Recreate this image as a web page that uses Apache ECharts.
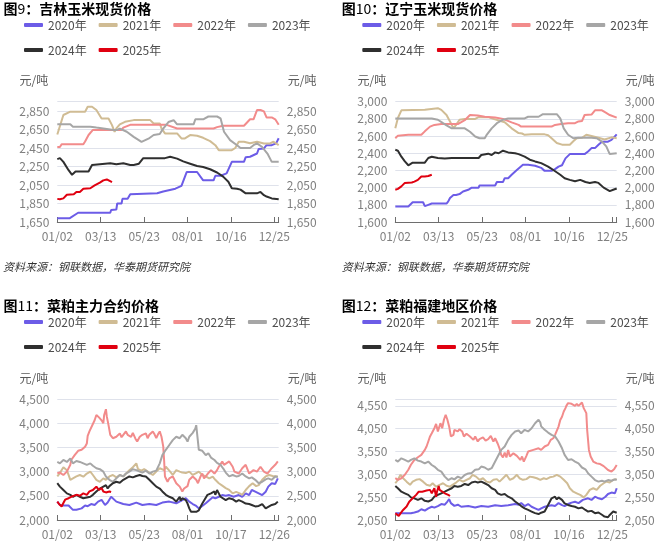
<!DOCTYPE html>
<html><head><meta charset="utf-8">
<script src="https://cdn.jsdelivr.net/npm/echarts@6/dist/echarts.min.js"></script>
<style>html,body{margin:0;padding:0;background:#fff}#c{width:662px;height:546px}</style>
</head><body><div id="c"></div>
<script>
// ---------- data ----------
const N = 256;
const xLabelsA = ['01/02','03/13','05/23','08/01','10/16','12/25'];
const xLabelsC = ['01/02','03/13','05/23','08/01','10/17','12/26'];
const years = ['2020年','2021年','2022年','2023年','2024年','2025年'];

const jilinTicks = [1650,1850,2050,2250,2450,2650,2850];
const liaoningTicks = [1600,1800,2000,2200,2400,2600,2800,3000];
const caipoTicks = [2000,2500,3000,3500,4000,4500];
const fujianTicks = [2050,2550,3050,3550,4050,4550];

const jilin2020 = [[0,1690],[14,1690],[24,1750],[61,1750],[62,1780],[68,1785],[69,1850],[74,1850],[75,1900],[81,1900],[84,1950],[115,1960],[117,1980],[122,1980],[124,2000],[136,2010],[138,2030],[143,2040],[149,2190],[161,2190],[163,2170],[168,2100],[180,2100],[182,2150],[188,2150],[190,2170],[195,2175],[201,2300],[215,2300],[217,2350],[222,2355],[230,2390],[232,2440],[238,2445],[241,2480],[247,2480],[252,2500],[255,2555]];
const jilin2021 = [[0,2596],[7,2806],[15,2842],[32,2842],[35,2896],[40,2896],[42,2878],[45,2860],[51,2769],[59,2769],[63,2697],[66,2625],[68,2661],[72,2704],[78,2733],[88,2751],[107,2751],[111,2715],[118,2715],[120,2661],[124,2607],[138,2607],[143,2553],[147,2553],[153,2589],[161,2582],[168,2560],[176,2524],[182,2480],[186,2426],[201,2426],[205,2450],[209,2517],[215,2517],[222,2500],[230,2517],[238,2499],[245,2499],[249,2517],[255,2480]];
const jilin2022 = [[0,2460],[3,2460],[5,2490],[30,2490],[32,2520],[36,2590],[41,2645],[74,2645],[76,2670],[84,2700],[126,2700],[138,2660],[180,2660],[184,2675],[191,2690],[215,2690],[218,2720],[222,2760],[226,2760],[230,2860],[234,2860],[238,2845],[241,2780],[247,2780],[251,2760],[255,2700]];
const jilin2023 = [[0,2705],[15,2705],[18,2680],[30,2680],[32,2660],[38,2680],[45,2670],[53,2660],[65,2645],[69,2645],[72,2660],[80,2625],[88,2570],[97,2515],[105,2550],[111,2590],[118,2600],[122,2660],[128,2730],[134,2750],[138,2705],[157,2705],[159,2760],[168,2760],[174,2790],[184,2790],[188,2770],[192,2625],[199,2535],[207,2480],[211,2450],[222,2450],[226,2480],[230,2500],[236,2460],[242,2390],[247,2300],[255,2300]];
const jilin2024 = [[0,2330],[1,2350],[3,2340],[7,2300],[13,2210],[17,2160],[19,2160],[21,2195],[36,2195],[40,2265],[42,2285],[61,2285],[68,2275],[76,2285],[84,2265],[88,2265],[94,2280],[99,2340],[124,2340],[130,2355],[138,2335],[145,2305],[153,2280],[161,2255],[168,2245],[176,2220],[184,2185],[191,2140],[197,2085],[201,2015],[207,2010],[211,2000],[217,1960],[230,1960],[234,1975],[238,1940],[241,1925],[247,1905],[255,1895]];
const jilin2025 = [[0,1900],[3,1895],[7,1905],[11,1945],[19,1950],[22,1975],[26,1975],[30,2010],[38,2015],[43,2045],[49,2075],[53,2100],[57,2110],[59,2100],[63,2080]];

const liaoning2020 = [[0,1780],[15,1780],[17,1800],[20,1830],[32,1830],[34,1785],[36,1785],[38,1800],[42,1815],[59,1815],[61,1840],[63,1880],[67,1915],[70,1915],[74,1925],[78,1955],[84,1975],[88,2000],[96,2000],[97,2025],[115,2025],[117,2065],[124,2065],[126,2110],[130,2110],[134,2150],[140,2205],[147,2265],[153,2265],[161,2255],[168,2230],[172,2195],[180,2195],[184,2215],[188,2245],[192,2260],[196,2340],[201,2390],[218,2390],[222,2420],[226,2460],[230,2460],[234,2500],[238,2535],[245,2535],[249,2555],[255,2620]];
const liaoning2021 = [[0,2690],[3,2810],[7,2900],[34,2905],[36,2925],[49,2925],[53,2905],[59,2845],[63,2770],[67,2690],[70,2730],[74,2790],[80,2800],[92,2800],[96,2820],[107,2820],[113,2800],[126,2760],[134,2690],[142,2635],[146,2630],[149,2615],[157,2620],[172,2620],[176,2610],[180,2575],[186,2520],[192,2500],[201,2500],[205,2540],[209,2575],[215,2580],[220,2615],[226,2600],[234,2580],[241,2560],[249,2585],[255,2575]];
const liaoning2022 = [[0,2575],[3,2605],[15,2615],[30,2615],[34,2655],[40,2710],[45,2730],[53,2740],[72,2740],[80,2785],[86,2845],[95,2840],[103,2825],[115,2815],[124,2800],[134,2760],[142,2730],[145,2710],[180,2710],[184,2730],[191,2740],[199,2750],[207,2750],[211,2770],[215,2775],[218,2845],[226,2850],[230,2900],[238,2900],[242,2875],[247,2845],[255,2815]];
const liaoning2023 = [[0,2805],[34,2805],[36,2800],[42,2805],[49,2790],[55,2750],[59,2725],[65,2690],[80,2690],[86,2650],[92,2595],[97,2575],[103,2575],[105,2610],[111,2690],[117,2750],[124,2790],[130,2805],[149,2805],[153,2825],[165,2825],[170,2855],[186,2855],[190,2805],[194,2690],[199,2615],[205,2575],[211,2580],[226,2580],[232,2575],[238,2535],[243,2480],[247,2390],[255,2400]];
const liaoning2024 = [[0,2440],[3,2430],[7,2360],[11,2305],[15,2260],[17,2275],[20,2290],[34,2290],[38,2345],[42,2360],[49,2345],[57,2340],[65,2345],[96,2345],[99,2380],[107,2395],[111,2380],[115,2410],[119,2400],[124,2430],[130,2410],[138,2400],[142,2390],[149,2360],[155,2325],[161,2305],[168,2285],[176,2245],[182,2205],[190,2150],[195,2110],[201,2090],[207,2075],[213,2090],[219,2065],[224,2055],[230,2065],[234,2055],[240,2000],[247,1960],[251,1975],[255,1990]];
const liaoning2025 = [[0,1975],[3,1985],[7,2015],[11,2055],[19,2060],[22,2070],[26,2090],[30,2130],[34,2130],[38,2135],[42,2150]];

const caipo2020 = [[0,2380],[3,2310],[7,2300],[13,2300],[18,2210],[22,2210],[24,2170],[28,2240],[32,2300],[35,2285],[39,2330],[43,2310],[47,2380],[51,2415],[55,2310],[58,2360],[62,2480],[64,2515],[68,2380],[76,2330],[83,2310],[91,2360],[98,2310],[106,2330],[114,2310],[121,2360],[129,2380],[137,2345],[144,2410],[148,2450],[152,2380],[156,2330],[160,2290],[163,2240],[167,2290],[171,2345],[175,2410],[179,2470],[182,2445],[186,2480],[190,2515],[194,2500],[198,2515],[203,2480],[209,2515],[213,2480],[217,2550],[221,2515],[224,2620],[228,2585],[232,2550],[236,2515],[240,2585],[243,2690],[247,2760],[251,2745],[254,2860]];
const caipo2021 = [[0,2900],[3,2970],[7,3090],[11,3030],[15,2830],[18,2860],[22,2900],[26,2930],[30,2895],[34,2960],[38,3000],[41,2930],[45,2830],[49,2790],[53,2860],[56,2830],[60,2900],[64,2930],[68,2880],[72,2930],[76,2900],[83,3030],[87,3090],[91,3170],[93,3050],[97,3020],[100,3050],[106,2980],[110,2930],[114,3000],[118,3070],[123,3030],[125,3100],[129,3020],[133,2930],[137,3030],[141,3000],[144,2980],[148,2970],[152,3000],[156,2930],[160,2970],[163,3000],[167,2930],[171,2900],[175,2860],[179,2895],[182,2830],[186,2760],[190,2710],[194,2660],[198,2620],[202,2550],[206,2580],[210,2550],[213,2520],[217,2620],[221,2700],[225,2760],[229,2700],[232,2720],[236,2830],[240,2900],[244,2930],[248,2910],[254,2900]];
const caipo2022 = [[0,2965],[3,2980],[7,2930],[11,3000],[13,3030],[15,3140],[16,3240],[20,3340],[24,3430],[28,3450],[30,3480],[32,3515],[34,3580],[35,3740],[37,3830],[39,3860],[43,4060],[45,4170],[48,4120],[51,4060],[53,4000],[54,4170],[56,4290],[57,4140],[59,3960],[60,3930],[61,3760],[64,3690],[66,3650],[68,3720],[72,3790],[74,3710],[76,3760],[79,3830],[81,3760],[83,3790],[85,3720],[87,3800],[90,3680],[92,3620],[95,3720],[98,3760],[100,3720],[102,3790],[104,3690],[106,3760],[110,3830],[112,3770],[114,3690],[116,3770],[118,3830],[120,3720],[122,3520],[123,3240],[124,2900],[127,2790],[129,2860],[131,2830],[133,2900],[137,2760],[141,2690],[144,2590],[146,2650],[148,2690],[150,2700],[152,2830],[156,2900],[160,2830],[162,2760],[165,2900],[167,2960],[169,2860],[173,2950],[177,3030],[179,3050],[181,2960],[184,3030],[186,3100],[190,3210],[192,3140],[194,3100],[198,3210],[200,3170],[202,3100],[204,3000],[206,3030],[209,2960],[211,2930],[213,3070],[217,3140],[219,3170],[221,2960],[223,3000],[226,3030],[230,3000],[234,3100],[238,3000],[242,2960],[244,3000],[247,3070],[251,3140],[254,3210]];
const caipo2023 = [[0,3200],[3,3170],[7,3240],[11,3200],[15,3270],[16,3240],[18,3170],[22,3220],[26,3200],[30,3170],[34,3140],[38,3170],[41,3120],[45,3070],[49,3050],[53,3000],[56,2900],[60,2830],[64,2790],[68,2860],[72,2930],[76,2900],[79,2960],[83,3000],[87,3050],[91,3030],[95,3000],[98,2980],[102,3020],[106,2960],[110,3000],[114,3020],[118,3170],[121,3340],[125,3450],[129,3550],[133,3650],[137,3720],[141,3690],[144,3760],[148,3690],[150,3620],[152,3720],[156,3800],[159,3890],[160,3960],[161,3790],[163,3450],[165,3410],[167,3430],[171,3340],[174,3380],[177,3290],[181,3240],[184,3180],[188,3140],[190,3090],[192,3040],[194,2980],[198,2900],[202,2930],[206,2900],[209,2910],[213,2960],[217,2900],[221,2860],[224,2880],[228,2830],[232,2760],[236,2790],[240,2840],[243,2860],[247,2830],[251,2900],[254,2890]];
const caipo2024 = [[0,2760],[3,2690],[7,2620],[11,2550],[15,2520],[18,2480],[22,2520],[26,2480],[30,2450],[34,2465],[38,2480],[41,2520],[45,2590],[49,2650],[53,2690],[56,2720],[58,2650],[60,2700],[64,2760],[68,2790],[72,2770],[76,2830],[79,2860],[83,2900],[87,2880],[91,2910],[95,2930],[98,2910],[102,2900],[106,2830],[110,2760],[114,2690],[118,2650],[121,2590],[125,2520],[127,2550],[129,2480],[133,2450],[137,2380],[139,2410],[141,2480],[142,2400],[144,2450],[148,2410],[150,2340],[152,2240],[154,2170],[156,2150],[160,2170],[163,2200],[165,2240],[167,2340],[169,2380],[173,2520],[175,2480],[177,2550],[181,2590],[182,2520],[184,2620],[186,2550],[188,2480],[190,2520],[194,2410],[198,2450],[202,2430],[206,2380],[209,2410],[213,2380],[217,2340],[221,2330],[224,2310],[228,2280],[232,2290],[236,2330],[240,2240],[243,2270],[247,2310],[251,2330],[254,2380]];
const caipo2025 = [[0,2380],[2,2330],[5,2280],[7,2350],[9,2420],[13,2450],[16,2480],[22,2520],[26,2500],[30,2550],[34,2520],[37,2590],[41,2620],[45,2690],[47,2700],[48,2620],[51,2660],[53,2590],[56,2570],[60,2590],[62,2580]];

const fujian2020 = [[0,2200],[18,2200],[22,2215],[26,2235],[30,2285],[34,2255],[38,2305],[42,2340],[45,2320],[49,2355],[53,2400],[57,2385],[60,2455],[62,2505],[64,2420],[68,2360],[72,2385],[76,2340],[84,2355],[92,2325],[99,2355],[107,2340],[115,2375],[122,2355],[130,2375],[138,2400],[142,2385],[145,2420],[149,2355],[153,2400],[157,2340],[161,2305],[165,2270],[168,2305],[172,2340],[176,2355],[180,2375],[184,2355],[188,2420],[192,2375],[195,2355],[199,2400],[203,2430],[207,2450],[211,2420],[216,2490],[222,2525],[226,2490],[230,2560],[234,2525],[238,2505],[242,2560],[245,2620],[249,2650],[253,2635],[255,2745]];
const fujian2021 = [[0,2855],[3,2930],[6,3040],[9,2965],[13,2890],[17,2820],[20,2890],[24,2930],[28,2945],[32,2890],[36,2820],[40,2800],[43,2855],[47,2780],[51,2820],[55,2855],[59,2800],[63,2780],[66,2820],[70,2870],[74,2930],[78,2890],[82,2930],[86,2965],[89,3040],[93,3000],[97,2930],[101,2965],[105,2890],[109,2870],[113,2930],[117,2945],[120,2890],[124,2965],[128,3040],[132,2930],[136,2965],[140,3040],[143,2965],[147,2930],[151,2945],[155,3000],[159,2985],[163,2965],[167,2930],[171,2965],[174,2945],[178,2985],[182,3000],[186,3040],[190,3000],[194,2930],[198,2855],[201,2745],[205,2670],[209,2635],[213,2600],[217,2545],[220,2600],[224,2710],[228,2745],[232,2710],[236,2800],[240,2855],[243,2890],[247,2870],[251,2930],[255,2945]];
const fujian2022 = [[0,2965],[3,2930],[7,2965],[11,3040],[15,3150],[18,3260],[22,3365],[26,3425],[30,3475],[32,3455],[34,3585],[36,3660],[38,3770],[40,3880],[42,3950],[45,4060],[47,4155],[49,3990],[52,4170],[54,4060],[56,4245],[58,4355],[60,4245],[62,4100],[64,3880],[67,3915],[68,4025],[72,3990],[74,4040],[77,3990],[79,3880],[82,3940],[84,3970],[86,3880],[90,3805],[92,3880],[95,3770],[97,3820],[101,3860],[104,3790],[107,3820],[110,3890],[113,3770],[115,3840],[118,3720],[120,3620],[122,3475],[124,3420],[126,3525],[128,3420],[130,3585],[132,3440],[136,3510],[140,3455],[144,3365],[146,3440],[148,3330],[151,3455],[153,3550],[155,3530],[159,3585],[161,3550],[165,3620],[168,3585],[172,3660],[176,3695],[179,3805],[182,3840],[184,3915],[186,3950],[188,4095],[190,4240],[192,4310],[194,4425],[196,4500],[197,4550],[199,4610],[203,4595],[207,4550],[209,4595],[211,4550],[213,4535],[215,4625],[217,4500],[219,4535],[220,4390],[221,4020],[223,3585],[225,3440],[228,3330],[232,3290],[236,3275],[238,3290],[240,3230],[242,3200],[245,3145],[247,3130],[249,3110],[252,3160],[255,3255]];
const fujian2023 = [[0,3365],[3,3330],[7,3400],[11,3365],[15,3330],[18,3365],[22,3400],[24,3365],[26,3350],[30,3330],[34,3290],[38,3330],[42,3255],[45,3220],[49,3150],[53,3110],[57,3000],[61,2925],[63,2890],[65,2965],[68,2940],[72,3000],[76,2965],[80,3035],[84,3070],[88,3080],[92,3150],[96,3160],[99,3220],[103,3200],[107,3150],[111,3185],[115,3330],[118,3440],[122,3585],[126,3660],[130,3805],[134,3915],[138,3990],[142,4010],[145,3950],[149,4025],[153,3990],[157,4060],[161,4170],[165,4245],[167,4185],[168,4100],[170,4135],[172,4025],[176,3965],[180,3915],[184,3880],[188,3770],[192,3620],[195,3475],[199,3365],[203,3380],[207,3330],[211,3290],[215,3200],[219,3160],[222,3075],[226,3000],[228,2965],[230,2925],[234,2890],[238,2910],[241,2890],[245,2925],[249,2910],[253,2940],[255,2925]];
const fujian2024 = [[0,2795],[3,2745],[7,2670],[11,2635],[15,2600],[18,2545],[22,2525],[26,2490],[30,2525],[34,2470],[38,2455],[42,2490],[45,2560],[49,2600],[53,2635],[57,2670],[61,2710],[65,2745],[68,2795],[72,2780],[76,2795],[80,2840],[84,2815],[88,2870],[92,2890],[95,2870],[99,2890],[103,2855],[107,2815],[111,2745],[115,2710],[118,2635],[122,2600],[126,2620],[130,2560],[134,2525],[138,2455],[142,2400],[145,2355],[149,2305],[153,2270],[157,2235],[161,2200],[165,2180],[168,2210],[172,2235],[176,2380],[180,2525],[184,2560],[186,2500],[188,2545],[192,2490],[195,2415],[199,2380],[203,2355],[207,2340],[211,2305],[215,2325],[219,2270],[222,2235],[226,2250],[230,2200],[234,2215],[238,2165],[241,2125],[245,2110],[247,2160],[249,2180],[251,2235],[255,2210]];
const fujian2025 = [[0,2195],[2,2160],[4,2140],[6,2195],[9,2270],[13,2345],[16,2450],[20,2525],[24,2600],[27,2670],[29,2710],[31,2670],[33,2710],[36,2695],[38,2670],[40,2710],[42,2635],[45,2745],[46,2710],[47,2560],[48,2670],[50,2795],[51,2710],[53,2670],[57,2635],[61,2600],[63,2575]];

// ---------- layout / style ----------
const colors = ['#6c5ce7','#d0bc94','#f28b8b','#a6a6a6','#2f2f2f','#e00010'];
const FONT = '"Noto Sans CJK SC","Noto Sans",sans-serif';
const cats = Array.from({length: N}, (_, i) => String(i));

const panels = [
  {num:'9',  name:'：吉林玉米现货价格', series:[jilin2020,jilin2021,jilin2022,jilin2023,jilin2024,jilin2025], ticks:jilinTicks, min:1650, max:2950, xl:xLabelsA,
   grid:{left:57.3, top:101.7, width:221.4, height:120.3}, titleX:3.5, titleY:2, legX:24, legY:19, source:{x:3, y:261}},
  {num:'10', name:'：辽宁玉米现货价格', series:[liaoning2020,liaoning2021,liaoning2022,liaoning2023,liaoning2024,liaoning2025], ticks:liaoningTicks, min:1600, max:3000, xl:xLabelsA,
   grid:{left:395.3, top:101.7, width:221.4, height:120.3}, titleX:341.7, titleY:2, legX:362.3, legY:19, source:{x:341.7, y:261}},
  {num:'11', name:'：菜粕主力合约价格', series:[caipo2020,caipo2021,caipo2022,caipo2023,caipo2024,caipo2025], ticks:caipoTicks, min:2000, max:4500, xl:xLabelsC,
   grid:{left:57.3, top:399, width:221.4, height:121}, titleX:3.5, titleY:298.5, legX:24, legY:316, source:null},
  {num:'12', name:'：菜粕福建地区价格', series:[fujian2020,fujian2021,fujian2022,fujian2023,fujian2024,fujian2025], ticks:fujianTicks, min:2050, max:4700, xl:xLabelsA,
   grid:{left:395.3, top:399, width:221.4, height:121}, titleX:341.7, titleY:298.5, legX:362.3, legY:316, source:null},
];

const option = {
  animation: false,
  backgroundColor: '#fff',
  textStyle: {fontFamily: FONT},
  title: [], legend: [], grid: [], xAxis: [], yAxis: [], series: []
};

panels.forEach((p, g) => {
  option.title.push({
    left: p.titleX, top: p.titleY, padding: 0,
    text: '{b|图}{n|' + p.num + '}{b|' + p.name + '}',
    textStyle: {rich: {
      b: {fontSize: 14, fontWeight: 'bold', color: '#000', fontFamily: FONT},
      n: {fontSize: 14, fontWeight: 'normal', color: '#000', fontFamily: FONT}
    }}
  });
  if (p.source) {
    option.title.push({
      left: p.source.x, top: p.source.y, padding: 0,
      text: '资料来源：钢联数据，华泰期货研究院',
      textStyle: {fontSize: 11, fontStyle: 'italic', fontWeight: 'normal', color: '#333', fontFamily: FONT}
    });
  }
  const legBase = {icon: 'roundRect', itemWidth: 19, itemHeight: 4, itemGap: 12, padding: 0,
    textStyle: {color: '#4d4d4d', fontSize: 12, fontFamily: FONT}};
  option.legend.push(Object.assign({left: p.legX, top: p.legY, data: years.slice(0, 4)}, legBase));
  option.legend.push(Object.assign({left: p.legX, top: p.legY + 25, data: years.slice(4)}, legBase));

  option.grid.push(Object.assign({containLabel: false, outerBoundsMode: 'none'}, p.grid));

  const xl = p.xl;
  option.xAxis.push({
    type: 'category', gridIndex: g, data: cats, boundaryGap: false,
    axisLine: {lineStyle: {color: '#6e6e6e', width: 1}},
    axisTick: {inside: true, length: 5, interval: 49, lineStyle: {color: '#6e6e6e'}},
    axisLabel: {interval: 49, showMaxLabel: true, hideOverlap: false, color: '#7f7f7f', fontSize: 12, margin: 8, fontFamily: FONT,
      formatter: v => { const i = +v; return (i % 50 === 0 && xl[i / 50]) ? xl[i / 50] : ''; }},
    splitLine: {show: false}
  });
  const tickVals = p.ticks.concat(p.ticks[p.ticks.length - 1] < p.max ? [p.max] : []);
  const yBase = {
    type: 'value', gridIndex: g, min: p.min, max: p.max,
    name: '元/吨', nameLocation: 'end', nameGap: 15,
    axisLine: {show: false},
    axisTick: {show: false, customValues: tickVals},
    axisLabel: {color: '#7f7f7f', fontSize: 12, margin: 8, fontFamily: FONT, customValues: p.ticks}
  };
  option.yAxis.push(Object.assign({}, yBase, {position: 'left',
    nameTextStyle: {color: '#595959', fontSize: 12, align: 'right', padding: [0, 9, 0, 0], fontFamily: FONT},
    splitLine: {show: true, lineStyle: {color: '#dfe2eb', width: 1}}}));
  option.yAxis.push(Object.assign({}, yBase, {position: 'right',
    nameTextStyle: {color: '#595959', fontSize: 12, align: 'left', padding: [0, 0, 0, 9], fontFamily: FONT},
    splitLine: {show: false}}));

  p.series.forEach((data, k) => {
    option.series.push({
      type: 'line', name: years[k], xAxisIndex: g, yAxisIndex: 2 * g,
      data: data, symbol: 'none', showSymbol: false,
      lineStyle: {width: 2, color: colors[k]}, itemStyle: {color: colors[k]},
      emphasis: {disabled: true}
    });
  });
});

const chart = echarts.init(document.getElementById('c'), null, {renderer: 'canvas'});
chart.setOption(option);
</script>
</body></html>
